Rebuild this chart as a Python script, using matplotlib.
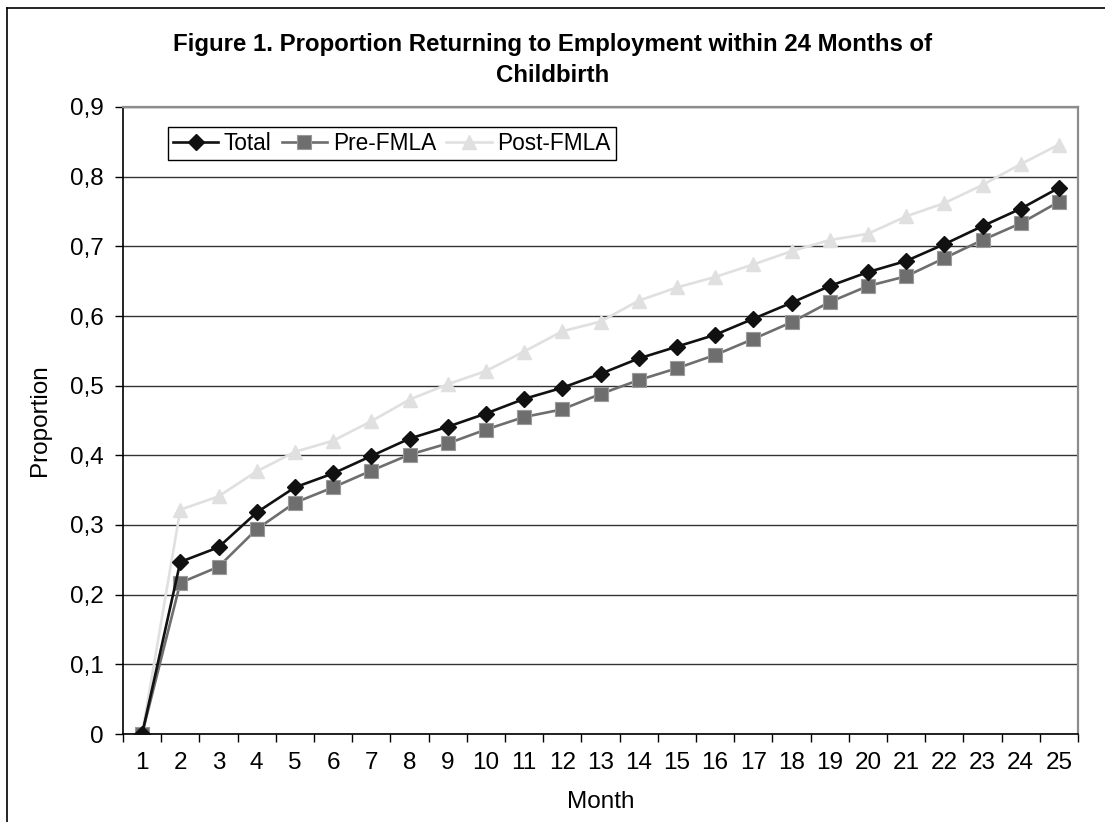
import matplotlib
matplotlib.use("Agg")
import matplotlib.pyplot as plt
from matplotlib.lines import Line2D

plt.rcParams['font.family'] = ['Liberation Sans', 'DejaVu Sans']

months = list(range(1, 26))
month_labels = [str(m) for m in months]

total = [0.000, 0.247, 0.268, 0.318, 0.354, 0.374, 0.399, 0.424, 0.441, 0.460,
         0.481, 0.497, 0.517, 0.539, 0.556, 0.573, 0.596, 0.619, 0.643, 0.663,
         0.679, 0.703, 0.729, 0.754, 0.784]
pre_fmla = [0.000, 0.217, 0.240, 0.294, 0.332, 0.354, 0.378, 0.401, 0.417, 0.437,
            0.455, 0.466, 0.488, 0.508, 0.525, 0.544, 0.567, 0.591, 0.620, 0.643,
            0.657, 0.683, 0.709, 0.733, 0.764]
post_fmla = [0.000, 0.322, 0.341, 0.377, 0.405, 0.421, 0.449, 0.480, 0.502, 0.521,
             0.549, 0.578, 0.592, 0.622, 0.641, 0.656, 0.674, 0.693, 0.709, 0.718,
             0.743, 0.762, 0.788, 0.818, 0.846]

y_ticks = [0, 0.1, 0.2, 0.3, 0.4, 0.5, 0.6, 0.7, 0.8, 0.9]
y_labels = ['0', '0,1', '0,2', '0,3', '0,4', '0,5', '0,6', '0,7', '0,8', '0,9']

W, H = 1105, 822
fig = plt.figure(figsize=(W / 100, H / 100), dpi=100)
fig.patch.set_facecolor('white')

# outer chart frame (left and top edges)
fig.add_artist(Line2D([7 / W, 7 / W], [0, 1 - 8 / H], transform=fig.transFigure,
                      color='black', lw=1.2))
fig.add_artist(Line2D([7 / W, 1], [1 - 8 / H, 1 - 8 / H], transform=fig.transFigure,
                      color='black', lw=1.2))

left, right, top, bottom = 123, 1078, 107, 734
ax = fig.add_axes([left / W, 1 - bottom / H, (right - left) / W, (bottom - top) / H])

ax.plot(months, post_fmla, color='#e0e0e0', lw=1.9, marker='^', ms=10.5,
        mfc='#e0e0e0', mec='#e0e0e0', label='Post-FMLA', zorder=3)
ax.plot(months, pre_fmla, color='#6e6e6e', lw=1.9, marker='s', ms=10,
        mfc='#6e6e6e', mec='#9a9a9a', mew=0.8, label='Pre-FMLA', zorder=4)
ax.plot(months, total, color='#111111', lw=1.9, marker='D', ms=8.5,
        mfc='#111111', mec='#111111', label='Total', zorder=5)

ax.set_xlim(0.5, 25.5)
ax.set_ylim(0, 0.9)

ax.set_yticks(y_ticks)
ax.set_yticklabels(y_labels, fontsize=17.5)
ax.yaxis.grid(True, color='#333333', lw=1.0)
ax.set_axisbelow(True)

# category ticks between months, labels centred on each month
ax.set_xticks([m + 0.5 for m in [0] + months])
ax.set_xticklabels([])
ax.set_xticks(months, minor=True)
ax.set_xticklabels(month_labels, minor=True, fontsize=17.5)
ax.tick_params(axis='x', which='major', direction='out', length=6, width=1, color='black')
ax.tick_params(axis='x', which='minor', length=0, pad=13)
ax.tick_params(axis='y', direction='out', length=6, width=1, color='black', pad=8)

for side in ['left', 'bottom']:
    ax.spines[side].set_color('black')
    ax.spines[side].set_linewidth(1.2)
for side in ['top', 'right']:
    ax.spines[side].set_color('#8c8c8c')
    ax.spines[side].set_linewidth(1.6)

ax.set_xlabel('Month', fontsize=17.5)
ax.xaxis.set_label_coords(0.5, -(791 - bottom) / (bottom - top))
ax.set_ylabel('Proportion', fontsize=17.5)
ax.yaxis.set_label_coords(-(left - 51) / (right - left), 0.5)

fig.text(0.5, 1 - 45 / H, 'Figure 1. Proportion Returning to Employment within 24 Months of',
         ha='center', va='center', fontsize=17.3, fontweight='bold')
fig.text(0.5, 1 - 75 / H, 'Childbirth',
         ha='center', va='center', fontsize=17.3, fontweight='bold')

handles, labels = ax.get_legend_handles_labels()
order = [2, 1, 0]
leg = ax.legend([handles[i] for i in order], [labels[i] for i in order],
                loc='upper left', bbox_to_anchor=(168 / W, 1 - 127 / H),
                bbox_transform=fig.transFigure, ncol=3, fontsize=16.3,
                frameon=True, fancybox=False, framealpha=1, edgecolor='black',
                handlelength=2.0, handletextpad=0.25, columnspacing=0.45,
                borderpad=0.22, borderaxespad=0)
leg.get_frame().set_linewidth(1.0)

fig.savefig('out.png', dpi=100, facecolor='white')
